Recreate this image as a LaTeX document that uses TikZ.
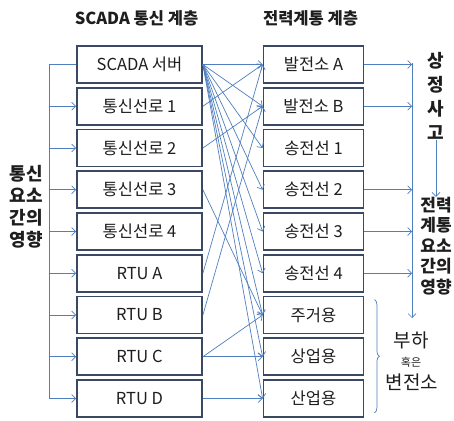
\documentclass[tikz,border=0pt]{standalone}
\usepackage{fontspec}
\setmainfont{Noto Sans CJK KR}
\usetikzlibrary{arrows.meta,decorations.pathreplacing}
\definecolor{lnk}{HTML}{4F7FBF}
\definecolor{boxc}{HTML}{3A4864}
\definecolor{txt}{HTML}{1E1E1E}
\begin{document}
\begin{tikzpicture}[x=1pt,y=-1pt,
  lbox/.style={draw=boxc,line width=1.8pt,minimum width=125pt,minimum height=37pt,inner sep=0pt,font=\fontsize{16.5}{18}\selectfont,text=txt},
  rbox/.style={lbox,minimum width=100pt},
  cline/.style={draw=lnk,line width=0.7pt},
  arr/.style={cline,-{Straight Barb[length=4pt,width=8pt]}},
  ttl/.style={font=\bfseries\fontsize{16.5}{18}\selectfont,text=txt},
  side/.style={font=\bfseries\fontsize{18}{22}\selectfont,align=center,text=txt,inner sep=0pt}
]
\fill[white] (0,0) rectangle (454,420);
\useasboundingbox (0,0) rectangle (454,420);

\node[ttl] (t1) at (136.5,18) {SCADA 통신 계층};
\node[ttl] (t2) at (310.5,18) {전력계통 계층};

% left column
\node[lbox] (L0) at (139.5,64.5) {SCADA 서버};
\node[lbox] (L1) at (139.5,106.25) {통신선로 1};
\node[lbox] (L2) at (139.5,148) {통신선로 2};
\node[lbox] (L3) at (139.5,189.75) {통신선로 3};
\node[lbox] (L4) at (139.5,231.5) {통신선로 4};
\node[lbox] (L5) at (139.5,273.25) {RTU A};
\node[lbox] (L6) at (139.5,315) {RTU B};
\node[lbox] (L7) at (139.5,356.75) {RTU C};
\node[lbox] (L8) at (139.5,398.5) {RTU D};

% right column
\node[rbox] (R0) at (313.5,64.5) {발전소 A};
\node[rbox] (R1) at (313.5,106.25) {발전소 B};
\node[rbox] (R2) at (313.5,148) {송전선 1};
\node[rbox] (R3) at (313.5,189.75) {송전선 2};
\node[rbox] (R4) at (313.5,231.5) {송전선 3};
\node[rbox] (R5) at (313.5,273.25) {송전선 4};
\node[rbox] (R6) at (313.5,315) {주거용};
\node[rbox] (R7) at (313.5,356.75) {상업용};
\node[rbox] (R8) at (313.5,398.5) {산업용};

% left bus
\coordinate (bt) at (49,64.5);
\coordinate (bb) at (49,398.5);
\draw[cline] (bt) -- (bb);
\draw[cline] (bt) -- (L0.west);
\foreach \i in {1,...,8}{\draw[arr] (L\i.west -| bt) -- (L\i.west);}

\node[side] (lt) at (26.5,207) {통신\\요소\\간의\\영향};

% cross connections
\foreach \i in {0,...,8}{\draw[arr] (L0.east) -- (R\i.west);}
\draw[arr] (L1.east) -- (R0.west);
\draw[arr] (L2.east) -- (R1.west);
\draw[arr] (L3.east) -- (R6.west);
\draw[arr] (L5.east) -- (R0.west);
\draw[arr] (L6.east) -- (R1.west);
\draw[arr] (L7.east) -- (R6.west);
\draw[arr] (L7.east) -- (R7.west);
\draw[arr] (L8.east) -- (R8.west);

% right bus
\coordinate (rt) at (412,63);
\coordinate (rb) at (412,318);
\draw[arr] (rt) -- (rb);
\foreach \i in {0,1,3,4,5}{\draw[arr] (R\i.east) -- (R\i.east -| rt);}

\node[side,font=\bfseries\fontsize{18}{24}\selectfont] (ss) at (436,96) {상\\정\\사\\고};
\node[side,font=\bfseries\fontsize{17}{20.5}\selectfont] (ji) at (436,246) {전력\\계통\\요소\\간의\\영향};
\draw[arr] (ss.south) -- (ji.north);

% brace and load label
\draw[draw=lnk,line width=0.7pt,decorate,decoration={brace,amplitude=5pt}]
  ([xshift=10pt,yshift=-4pt]R6.north east) -- ([xshift=10pt,yshift=5pt]R8.south east);
\node[font=\fontsize{19}{20}\selectfont,text=txt,inner sep=0pt] (bh) at (411,340) {부하};
\node[font=\fontsize{11}{12}\selectfont,text=txt,inner sep=0pt] (hk) at (411,362) {혹은};
\node[font=\fontsize{19}{20}\selectfont,text=txt,inner sep=0pt] (bj) at (412,382) {변전소};
\end{tikzpicture}
\end{document}
